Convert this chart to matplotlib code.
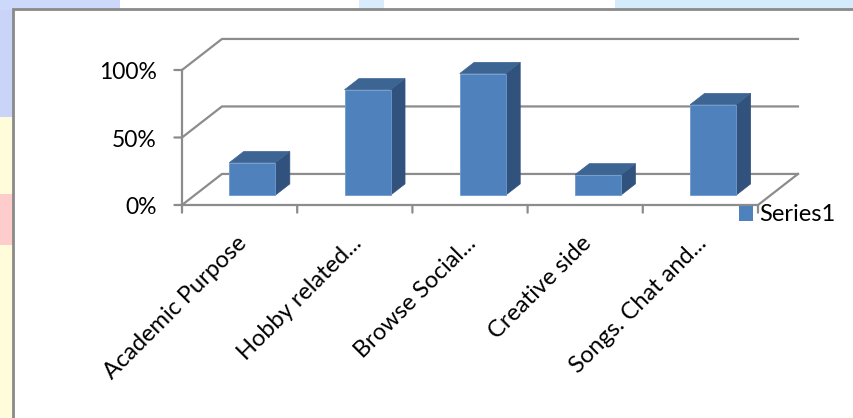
import matplotlib.pyplot as plt
from matplotlib.patches import Polygon, Rectangle, Patch

plt.rcParams['font.family'] = ['Lato', 'DejaVu Sans']

# Data
categories = ['Academic Purpose', 'Hobby related...', 'Browse Social...',
              'Creative side', 'Songs. Chat and...']
values = [24, 78, 90, 15, 67]
y_ticks = [0, 50, 100]
y_tick_labels = ['0%', '50%', '100%']
series_name = 'Series1'

# Colors
front_color = '#4f81bd'
top_color = '#3d6593'
side_color = '#31527c'
grid_color = '#8c8c8c'

# 3D-ish depth: full floor depth expressed in data units
DEPTH_X = 0.347   # categories
DEPTH_Y = 23.0    # percent
BAR_D0, BAR_D1 = 0.32, 0.68
BAR_W = 0.40

fig = plt.figure(figsize=(8.54, 4.18), dpi=100)
fig.patch.set_facecolor('#fffcdc')

# slide background bits around the white chart box
bg = [((0, 0.72), 0.016, 0.28, '#cad3f8'),
      ((0, 0.415), 0.016, 0.12, '#ffcccc'),
      ((0, 0.975), 0.14, 0.025, '#cdd9fa'),
      ((0.14, 0.975), 0.6, 0.025, '#ffffff'),
      ((0.42, 0.975), 0.03, 0.025, '#d8ecfb'),
      ((0.72, 0.975), 0.28, 0.025, '#d3ebfb')]
for xy, w, h, c in bg:
    fig.patches.append(Rectangle(xy, w, h, transform=fig.transFigure,
                                 facecolor=c, edgecolor='none', zorder=-5))
fig.patches.append(Rectangle((0.0152, -0.01), 1.0, 0.988, transform=fig.transFigure,
                             facecolor='white', edgecolor='#8a8a8a', lw=2, zorder=-4))

# axes = front plane of the chart
left, right = 182 / 854, 758 / 854
bottom, top = (418 - 205) / 418, (418 - 70) / 418
ax = fig.add_axes([left, bottom, right - left, top - bottom])
ax.set_xlim(-0.5, len(categories) - 0.5)
ax.set_ylim(0, 100)
ax.axis('off')

x0, x1 = -0.5, len(categories) - 0.5
lw = 1.6
# back wall grid lines and side wall diagonals
for v in y_ticks:
    ax.plot([x0, x0 + DEPTH_X, x1 + DEPTH_X], [v, v + DEPTH_Y, v + DEPTH_Y],
            color=grid_color, lw=lw, clip_on=False, zorder=1)
# floor front edge and right edge
ax.plot([x0, x1, x1 + DEPTH_X], [0, 0, DEPTH_Y], color=grid_color, lw=lw,
        clip_on=False, zorder=1)
# front y axis
ax.plot([x0, x0], [0, 100], color=grid_color, lw=lw, clip_on=False, zorder=1)

# ticks (in points, through offset annotations)
for v, lab in zip(y_ticks, y_tick_labels):
    ax.annotate('', xy=(x0, v), xytext=(-5.5, 0), textcoords='offset points',
                arrowprops=dict(arrowstyle='-', color=grid_color, lw=lw,
                                shrinkA=0, shrinkB=0), annotation_clip=False)
    ax.annotate(lab, xy=(x0, v), xytext=(-18, -2), textcoords='offset points',
                ha='right', va='center', fontsize=16.5, color='black',
                annotation_clip=False)
for i in range(len(categories) + 1):
    ax.annotate('', xy=(i - 0.5, 0), xytext=(0, -5.5), textcoords='offset points',
                arrowprops=dict(arrowstyle='-', color=grid_color, lw=lw,
                                shrinkA=0, shrinkB=0), annotation_clip=False)

# category labels
for i, lab in enumerate(categories):
    ax.annotate(lab, xy=(i, 0), xytext=(-3, -20), textcoords='offset points',
                ha='right', va='top', rotation=45, rotation_mode='anchor',
                fontsize=17, color='black', annotation_clip=False)

# bars
xs = [i + BAR_D0 * DEPTH_X for i in range(len(values))]
base = BAR_D0 * DEPTH_Y
ax.bar(xs, values, width=BAR_W, bottom=base, color=front_color,
       edgecolor='#6f9bd0', linewidth=0.6, zorder=3, clip_on=False)
ddx = (BAR_D1 - BAR_D0) * DEPTH_X
ddy = (BAR_D1 - BAR_D0) * DEPTH_Y
for xc, v in zip(xs, values):
    xl, xr = xc - BAR_W / 2, xc + BAR_W / 2
    yt = base + v
    side = Polygon([(xr, base), (xr, yt), (xr + ddx, yt + ddy), (xr + ddx, base + ddy)],
                   closed=True, facecolor=side_color, edgecolor=side_color,
                   lw=0.5, zorder=2.9, clip_on=False)
    topf = Polygon([(xl, yt), (xr, yt), (xr + ddx, yt + ddy), (xl + ddx, yt + ddy)],
                   closed=True, facecolor=top_color, edgecolor=top_color,
                   lw=0.5, zorder=2.9, clip_on=False)
    ax.add_patch(side)
    ax.add_patch(topf)

# legend
fig.legend(handles=[Patch(facecolor=front_color, edgecolor='none', label=series_name)],
           loc='center left', bbox_to_anchor=(739 / 854, 1 - 215 / 418),
           frameon=False, fontsize=17, handlelength=0.6, handleheight=0.6,
           handletextpad=0.25, borderpad=0, borderaxespad=0)

fig.savefig('out.png', dpi=100)
